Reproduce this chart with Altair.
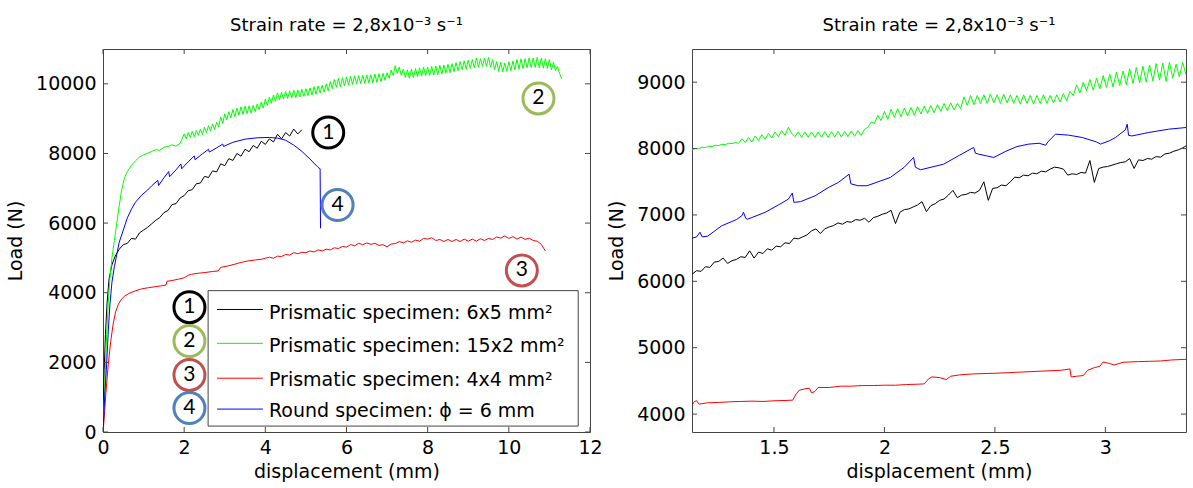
import altair as alt
import pandas as pd

FONT = "DejaVu Sans"
NUM_FONT = "Lato"
FRAME = "#454545"
TICK = 5
AXIS_SIZE = 19
TITLE = "Strain rate = 2,8x10⁻³ s⁻¹"

SERIES = ["1", "2", "3", "4"]
LINE_COLORS = ["#000000", "#00ff00", "#ff0000", "#0000ff"]
RING_COLORS = ["#000000", "#9bbb59", "#c0504d", "#4f81bd"]
LEGEND_LABELS = [
    "Prismatic specimen: 6x5 mm²",
    "Prismatic specimen: 15x2 mm²",
    "Prismatic specimen: 4x4 mm²",
    "Round specimen: ϕ = 6 mm",
]

# ---------------- full tests (left panel) ----------------
LEFT_XTICKS = [0, 2, 4, 6, 8, 10, 12]
LEFT_YTICKS = [0, 2000, 4000, 6000, 8000, 10000]

BLACK_L_RISE = [(0, 0), (0.01, 900), (0.03, 1800), (0.06, 2800), (0.1, 3700),
                (0.15, 4400), (0.22, 4800), (0.3, 5050), (0.4, 5250), (0.5, 5380)]
BLACK_L_START, BLACK_L_STEP = 0.6, 0.1
BLACK_L_LOAD = [5420, 5560, 5540, 5720, 5800, 5880, 5980, 6080, 6160, 6300,
                6360, 6530, 6560, 6720, 6790, 6930, 6960, 7130, 7150, 7340,
                7310, 7500, 7470, 7700, 7650, 7850, 7800, 8000, 7920, 8120,
                8050, 8230, 8150, 8350, 8260, 8420, 8330, 8550, 8420, 8600,
                8500, 8700, 8560, 8680]

GREEN_L_RISE = [(0, 0), (0.02, 600), (0.05, 1500), (0.09, 2800), (0.13, 3700),
                (0.17, 4400), (0.22, 5000), (0.28, 5500), (0.34, 6000),
                (0.4, 6500), (0.46, 6950), (0.53, 7300), (0.6, 7480), (0.7, 7660),
                (0.8, 7790), (0.9, 7900), (1.0, 7960), (1.1, 8010), (1.2, 8060),
                (1.3, 8110), (1.4, 8090), (1.5, 8180), (1.6, 8200), (1.7, 8250),
                (1.8, 8210), (1.9, 8290)]
GREEN_L_START, GREEN_L_STEP = 2.0, 0.05
GREEN_L_LOAD = [8560, 8420, 8600, 8460, 8640, 8480, 8660, 8520, 8700, 8540,
                8760, 8600, 8800, 8640, 8850, 8680, 8900, 8760, 9050, 8860,
                9140, 8960, 9200, 9020, 9260, 9060, 9300, 9100, 9340, 9120,
                9360, 9140, 9370, 9160, 9380, 9200, 9420, 9260, 9480, 9300,
                9560, 9380, 9620, 9440, 9680, 9500, 9740, 9540, 9760, 9560,
                9780, 9580, 9800, 9600, 9820, 9600, 9820, 9620, 9840, 9640,
                9860, 9660, 9880, 9680, 9920, 9700, 9940, 9740, 9960, 9760,
                10000, 9800, 10060, 9860, 10120, 9900, 10160, 9920, 10180, 9940,
                10200, 9960, 10220, 9980, 10230, 10000, 10240, 10000, 10250, 10010,
                10260, 10020, 10260, 10030, 10280, 10040, 10290, 10060, 10300, 10100,
                10320, 10160, 10400, 10240, 10520, 10300, 10480, 10240, 10420, 10180,
                10400, 10160, 10420, 10180, 10440, 10200, 10460, 10220, 10480, 10230,
                10480, 10240, 10500, 10250, 10510, 10260, 10530, 10280, 10540, 10300,
                10560, 10320, 10580, 10350, 10610, 10380, 10640, 10400, 10660, 10420,
                10680, 10440, 10700, 10460, 10740, 10480, 10720, 10500, 10740, 10500,
                10760, 10480, 10700, 10400, 10640, 10360, 10620, 10340, 10600, 10360,
                10640, 10380, 10660, 10400, 10700, 10420, 10720, 10440, 10720, 10460,
                10740, 10460, 10740, 10470, 10760, 10460, 10740, 10450, 10720, 10440,
                10700, 10400, 10620, 10380, 10500, 10300, 10150]

RED_L_RISE = [(0, 0), (0.03, 400), (0.07, 1100), (0.13, 1950), (0.19, 2600),
              (0.25, 3100), (0.31, 3450), (0.38, 3670), (0.46, 3820), (0.54, 3910),
              (0.66, 3990), (0.79, 4050), (0.95, 4110), (1.12, 4145), (1.3, 4175),
              (1.45, 4200), (1.55, 4220), (1.58, 4330), (1.7, 4350), (1.86, 4390),
              (2.0, 4430), (2.1, 4500), (2.18, 4530), (2.35, 4560), (2.51, 4580),
              (2.7, 4610), (2.84, 4625), (2.9, 4730), (3.05, 4760), (3.25, 4820),
              (3.4, 4870), (3.58, 4915), (3.75, 4940), (3.9, 4960)]
RED_L_START, RED_L_STEP = 4.0, 0.1
RED_L_LOAD = [4990, 5020, 4990, 5050, 5040, 5100, 5080, 5150, 5120, 5160,
              5150, 5200, 5170, 5230, 5200, 5250, 5230, 5290, 5270, 5330,
              5310, 5380, 5350, 5420, 5380, 5430, 5390, 5420, 5360, 5380,
              5320, 5400, 5410, 5470, 5430, 5490, 5450, 5510, 5480, 5560,
              5540, 5580, 5500, 5530, 5470, 5530, 5470, 5530, 5470, 5540,
              5480, 5540, 5480, 5550, 5500, 5560, 5530, 5600, 5570, 5630,
              5560, 5610, 5540, 5600, 5530, 5570, 5500, 5480, 5390, 5200]

BLUE_L = [(0, 0), (0.02, 500), (0.05, 1200), (0.09, 1950), (0.13, 2900),
          (0.17, 3650), (0.22, 4300), (0.28, 4750), (0.34, 5100), (0.4, 5450),
          (0.5, 5800), (0.6, 6150), (0.7, 6400), (0.8, 6600), (0.95, 6800),
          (1.1, 6950), (1.2, 7070), (1.35, 7230), (1.37, 7080), (1.5, 7300),
          (1.62, 7480), (1.64, 7330), (1.8, 7530), (1.92, 7700), (1.94, 7560),
          (2.1, 7760), (2.25, 7930), (2.27, 7820), (2.45, 7990), (2.6, 8120),
          (2.62, 8040), (2.8, 8160), (2.95, 8270), (2.97, 8200), (3.2, 8320),
          (3.5, 8410), (3.8, 8450), (4.1, 8460), (4.3, 8440), (4.5, 8380),
          (4.7, 8240), (4.9, 8060), (5.1, 7840), (5.3, 7600), (5.35, 7560),
          (5.36, 5850)]

# ---------------- zoomed window (right panel) ----------------
RIGHT_XTICKS = [1.5, 2, 2.5, 3]
RIGHT_YTICKS = [4000, 5000, 6000, 7000, 8000, 9000]

BLACK_R_START, BLACK_R_STEP = 1.13, 0.02
BLACK_R_LOAD = [6110, 6160, 6150, 6220, 6210, 6290, 6300, 6350, 6270, 6310,
                6330, 6370, 6360, 6460, 6350, 6440, 6420, 6490, 6470, 6530,
                6520, 6580, 6570, 6650, 6640, 6670, 6700, 6760, 6790, 6720,
                6790, 6820, 6840, 6880, 6860, 6900, 6890, 6930, 6920, 6950,
                6890, 6960, 6980, 7010, 7030, 7070, 6870, 7040, 7080, 7090,
                7120, 7150, 7200, 7050, 7140, 7170, 7220, 7240, 7300, 7370,
                7260, 7300, 7310, 7340, 7330, 7370, 7500, 7220, 7400, 7410,
                7450, 7440, 7500, 7570, 7560, 7600, 7590, 7630, 7620, 7660,
                7650, 7690, 7720, 7710, 7690, 7600, 7620, 7610, 7640, 7630,
                7820, 7490, 7700, 7720, 7730, 7750, 7770, 7790, 7800, 7850,
                7700, 7830, 7820, 7850, 7840, 7880, 7870, 7920, 7930, 7960,
                7980, 8010, 8050]

GREEN_R_START, GREEN_R_STEP = 1.13, 0.015
GREEN_R_LOAD = [7985, 8000, 8000, 8020, 8015, 8035, 8030, 8050, 8045, 8065,
                8060, 8080, 8075, 8090, 8080, 8150, 8090, 8170, 8100, 8190,
                8120, 8210, 8140, 8230, 8160, 8250, 8180, 8270, 8200, 8320,
                8230, 8180, 8250, 8170, 8250, 8170, 8250, 8170, 8250, 8170,
                8255, 8170, 8255, 8175, 8260, 8175, 8260, 8180, 8265, 8185,
                8270, 8200, 8290, 8320, 8400, 8380, 8500, 8420, 8560, 8440,
                8590, 8470, 8600, 8480, 8610, 8490, 8620, 8500, 8630, 8520,
                8640, 8530, 8650, 8540, 8660, 8560, 8680, 8570, 8690, 8580,
                8680, 8600, 8780, 8650, 8800, 8660, 8800, 8680, 8810, 8680,
                8820, 8690, 8810, 8680, 8820, 8690, 8810, 8680, 8800, 8670,
                8810, 8680, 8800, 8670, 8800, 8680, 8810, 8680, 8800, 8690,
                8810, 8700, 8830, 8720, 8860, 8800, 8960, 8840, 9000, 8870,
                9040, 8880, 9060, 8900, 9100, 8920, 9120, 8930, 9150, 8950,
                9170, 8960, 9200, 8980, 9220, 8990, 9240, 9000, 9260, 9020,
                9280, 9030, 9290, 9010, 9300, 9060, 9270, 9080, 9300, 9110]

RED_R = [(1.13, 4140), (1.14, 4190), (1.15, 4200), (1.16, 4150), (1.2, 4170),
         (1.25, 4175), (1.3, 4185), (1.35, 4190), (1.4, 4195), (1.45, 4190),
         (1.5, 4200), (1.55, 4205), (1.585, 4210), (1.6, 4300), (1.615, 4360),
         (1.64, 4380), (1.66, 4390), (1.67, 4320), (1.685, 4340), (1.7, 4400),
         (1.75, 4400), (1.8, 4420), (1.85, 4420), (1.9, 4430), (1.95, 4430),
         (2.0, 4435), (2.05, 4435), (2.1, 4445), (2.15, 4450), (2.18, 4455),
         (2.2, 4530), (2.215, 4560), (2.25, 4550), (2.28, 4520), (2.3, 4570),
         (2.34, 4590), (2.4, 4605), (2.5, 4615), (2.6, 4630), (2.7, 4645),
         (2.8, 4660), (2.84, 4680), (2.845, 4560), (2.87, 4570), (2.9, 4580),
         (2.92, 4660), (2.95, 4700), (2.975, 4720), (2.99, 4785), (3.02, 4760),
         (3.04, 4740), (3.08, 4780), (3.11, 4785), (3.15, 4790), (3.2, 4795),
         (3.25, 4800), (3.3, 4815), (3.365, 4825)]

BLUE_R = [(1.13, 6650), (1.15, 6670), (1.165, 6740), (1.175, 6670), (1.2, 6680),
          (1.263, 6836), (1.33, 6930), (1.355, 6990), (1.362, 7040), (1.372, 6950),
          (1.38, 6935), (1.459, 7038), (1.52, 7150), (1.565, 7238), (1.583, 7330),
          (1.59, 7190), (1.62, 7200), (1.686, 7288), (1.75, 7420), (1.791, 7489),
          (1.84, 7614), (1.848, 7470), (1.88, 7440), (1.921, 7440), (2.027, 7565),
          (2.09, 7720), (2.132, 7866), (2.14, 7720), (2.163, 7680), (2.268, 7765),
          (2.34, 7900), (2.404, 8017), (2.412, 7930), (2.427, 7916), (2.495, 7866),
          (2.55, 7960), (2.6, 8030), (2.653, 8067), (2.7, 8080), (2.73, 8050),
          (2.74, 8100), (2.774, 8217), (2.834, 8202), (2.895, 8167), (2.96, 8100),
          (2.978, 8067), (3.02, 8120), (3.046, 8167), (3.09, 8280), (3.099, 8367),
          (3.105, 8200), (3.12, 8190), (3.196, 8242), (3.287, 8292), (3.365, 8317)]

# ---------------- annotations on the left panel (data coordinates) ----------------
RING_X = [5.55, 10.73, 10.32, 5.78]
RING_LOAD = [8600, 9580, 4640, 6520]
KEY_RING_X = 2.13
KEY_LOAD = [3585, 2612, 1639, 687]
KEY_LINE_X = (2.81, 3.94)
KEY_LINE_LOAD = [3519, 2546, 1545, 658]
KEY_TEXT_X = 4.09
KEY_TEXT_LOAD = [3420, 2460, 1490, 610]
KEY_BOX = (2.59, 11.71, 4060, 170)


def grid(x0, step, loads):
    return [(round(x0 + step * i, 4), v) for i, v in enumerate(loads)]


def curves(parts):
    rows = []
    for name, color, pts in parts:
        for i, (x, y) in enumerate(pts):
            rows.append({"series": name, "color": color, "x": x, "load": y, "i": i})
    return pd.DataFrame(rows)


left_df = curves([
    ("1", LINE_COLORS[0], BLACK_L_RISE + grid(BLACK_L_START, BLACK_L_STEP, BLACK_L_LOAD)),
    ("2", LINE_COLORS[1], GREEN_L_RISE + grid(GREEN_L_START, GREEN_L_STEP, GREEN_L_LOAD)),
    ("3", LINE_COLORS[2], RED_L_RISE + grid(RED_L_START, RED_L_STEP, RED_L_LOAD)),
    ("4", LINE_COLORS[3], BLUE_L),
])

right_df = curves([
    ("1", LINE_COLORS[0], grid(BLACK_R_START, BLACK_R_STEP, BLACK_R_LOAD)),
    ("2", LINE_COLORS[1], grid(GREEN_R_START, GREEN_R_STEP, GREEN_R_LOAD)),
    ("3", LINE_COLORS[2], RED_R),
    ("4", LINE_COLORS[3], BLUE_R),
])


def axis(values, title, fmt, orient_y):
    return alt.Axis(
        values=values, title=title, format=fmt, grid=False, ticks=False, domain=False,
        labelFont=FONT, labelFontSize=AXIS_SIZE, labelColor="black",
        labelPadding=7 if orient_y else 6, labelFlush=False, labelOverlap=False,
        titleFont=FONT, titleFontSize=AXIS_SIZE, titleFontWeight="normal", titleColor="black",
        titlePadding=10 if orient_y else 5,
    )


def panel(df, xdom, ydom, xticks, yticks, xfmt, width, height, extra=()):
    X = alt.X("x:Q", scale=alt.Scale(domain=xdom, nice=False, zero=False),
              axis=axis(xticks, "displacement (mm)", xfmt, False))
    Y = alt.Y("load:Q", scale=alt.Scale(domain=ydom, nice=False, zero=False),
              axis=axis(yticks, "Load (N)", "d", True))

    lines = alt.Chart(df).mark_line(strokeWidth=1, clip=True).encode(
        x=X, y=Y, color=alt.Color("color:N", scale=None),
        detail="series:N", order="i:Q")

    layers = [lines] + [f(X, Y) for f in extra]

    tx = pd.DataFrame({"x": xticks})
    ty = pd.DataFrame({"load": yticks})
    rule = dict(color=FRAME, strokeWidth=1)
    layers += [
        alt.Chart(tx).mark_rule(**rule).encode(x=X, y=alt.value(0), y2=alt.value(TICK)),
        alt.Chart(tx).mark_rule(**rule).encode(x=X, y=alt.value(height), y2=alt.value(height - TICK)),
        alt.Chart(ty).mark_rule(**rule).encode(y=Y, x=alt.value(0), x2=alt.value(TICK)),
        alt.Chart(ty).mark_rule(**rule).encode(y=Y, x=alt.value(width - TICK), x2=alt.value(width)),
    ]
    return alt.layer(*layers).properties(
        width=width, height=height,
        title=alt.TitleParams(TITLE, font=FONT, fontSize=18, fontWeight="normal",
                              color="black", offset=14),
    )


def key_box(X, Y):
    x1, x2, y1, y2 = KEY_BOX
    d = pd.DataFrame([{"x": x1, "x2": x2, "load": y1, "load2": y2}])
    return alt.Chart(d).mark_rect(fill="white", stroke=FRAME, strokeWidth=1).encode(
        x=X, x2="x2:Q", y=Y, y2="load2:Q")


def key_lines(X, Y):
    d = pd.DataFrame({"x": KEY_LINE_X[0], "x2": KEY_LINE_X[1],
                      "load": KEY_LINE_LOAD, "color": LINE_COLORS})
    return alt.Chart(d).mark_rule(strokeWidth=1).encode(
        x=X, x2="x2:Q", y=Y, color=alt.Color("color:N", scale=None))


def key_text(X, Y):
    d = pd.DataFrame({"x": KEY_TEXT_X, "load": KEY_TEXT_LOAD, "label": LEGEND_LABELS})
    return alt.Chart(d).mark_text(align="left", baseline="middle", font=FONT,
                                  fontSize=19, color="black").encode(x=X, y=Y, text="label:N")


def ring_frame():
    return pd.DataFrame({
        "x": RING_X + [KEY_RING_X] * 4,
        "load": RING_LOAD + KEY_LOAD,
        "num": SERIES + SERIES,
        "ring": RING_COLORS + RING_COLORS,
    })


def rings(X, Y):
    return alt.Chart(ring_frame()).mark_point(
        shape="circle", filled=False, strokeWidth=3, size=960, opacity=1).encode(
        x=X, y=Y, color=alt.Color("ring:N", scale=None))


def ring_digits(X, Y):
    return alt.Chart(ring_frame()).mark_text(
        font=NUM_FONT, fontSize=21, baseline="middle", align="center", color="black").encode(
        x=X, y=Y, text="num:N")


left = panel(left_df, [0, 12], [0, 11000], LEFT_XTICKS, LEFT_YTICKS, "d", 487, 383,
             extra=(key_box, key_lines, key_text, rings, ring_digits))
right = panel(right_df, [1.129, 3.365], [3730, 9500], RIGHT_XTICKS, RIGHT_YTICKS, "~g", 494, 383)

chart = alt.hconcat(left, right, spacing=102, bounds="flush").properties(
    padding={"left": 6, "top": 16, "right": 4, "bottom": 4},
    background="white",
).configure_view(stroke=FRAME, strokeWidth=1)

chart.save("out.html", embed_options={"renderer": "svg", "actions": False})
